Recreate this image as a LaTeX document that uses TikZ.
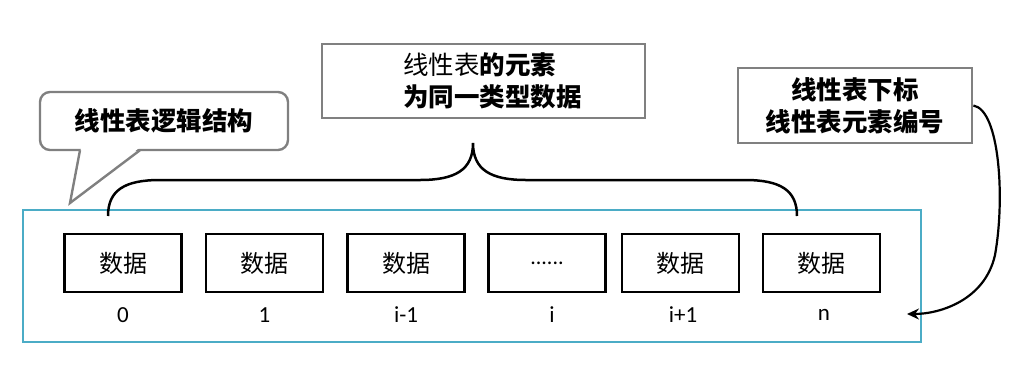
\documentclass[tikz,border=0pt]{standalone}
\usepackage{fontspec}
\newfontfamily\cjk{Noto Sans CJK SC}
\newfontfamily\lat{Carlito}
\usetikzlibrary{arrows.meta}
\definecolor{teal1}{RGB}{75,172,198}
\definecolor{gray1}{RGB}{128,128,128}
\tikzset{
  databox/.style={draw=black,line width=2.6pt,minimum width=117pt,minimum height=58pt,inner sep=0pt,font=\cjk\fontsize{24}{28}\selectfont},
  idx/.style={font=\lat\fontsize{23}{26}\selectfont,inner sep=0pt},
  notebox/.style={draw=gray1,line width=2.8pt,inner sep=0pt},
  notetext/.style={inner sep=0pt,font=\cjk\bfseries\fontsize{25.5}{32}\selectfont},
}
\begin{document}
\begin{tikzpicture}[x=1pt,y=-1pt]
\useasboundingbox (0,0) rectangle (1010,373);
% outer container
\node[draw=teal1,line width=2.8pt,minimum width=898pt,minimum height=132pt,inner sep=0pt] (outer) at (472,276) {};
% data boxes
\node[databox] (b0) at (123,263) {数据};
\node[databox] (b1) at (264.5,263) {数据};
\node[databox] (b2) at (406,263) {数据};
\node[databox,font=\lat\fontsize{22}{26}\selectfont] (b3) at (547,263) {......};
\node[databox] (b4) at (680.5,263) {数据};
\node[databox] (b5) at (821.5,263) {数据};
% indices
\node[idx] (i0) at (123,315) {0};
\node[idx] (i1) at (264.5,315) {1};
\node[idx] (i2) at (406,315) {i-1};
\node[idx] (i3) at (552,315) {i};
\node[idx] (i4) at (683,315) {i+1};
\node[idx] (i5) at (824,315) {n};
% callout
\node[draw=gray1,line width=2.4pt,rounded corners=10pt,minimum width=248pt,minimum height=58pt,inner sep=0pt,font=\cjk\bfseries\fontsize{25.5}{30}\selectfont] (call) at (164,121) {线性表逻辑结构};
\coordinate (tip) at (70,203);
\fill[white] (81,148) -- (tip) -- (139,148) -- cycle;
\draw[gray1,line width=2.4pt,line join=miter] (80,150.2) -- (tip) -- (140,150.2);
% middle note
\node[notebox,minimum width=323pt,minimum height=74pt] (mid) at (483.5,81) {};
\node[notetext,anchor=west,align=left] (midtext) at (403,81) {{\mdseries 线性表}的元素\\为同一类型数据};
% right note
\node[notebox,minimum width=234pt,minimum height=75pt] (right) at (855,105.5) {};
\node[notetext,align=center] (righttext) at (right.center) {线性表下标\\线性表元素编号};
% brace
\coordinate (bl) at (108,216);
\coordinate (br) at (797,216);
\coordinate (btip) at (473,143);
\draw[line width=2.5pt] (bl) .. controls (108,190) and (125,180) .. (160,180) -- (420,180)
  .. controls (455,180) and (473,170) .. (btip)
  .. controls (473,170) and (491,180) .. (526,180) -- (745,180)
  .. controls (780,180) and (797,190) .. (br);
% index arrow
\coordinate (aend) at (907,314);
\draw[line width=2.2pt,-{Stealth[length=12pt,width=11pt,inset=4pt]}] (right.east) .. controls (1000,110) and (1005,200) .. (995,255) .. controls (985,300) and (940,314) .. (aend);
\end{tikzpicture}
\end{document}
